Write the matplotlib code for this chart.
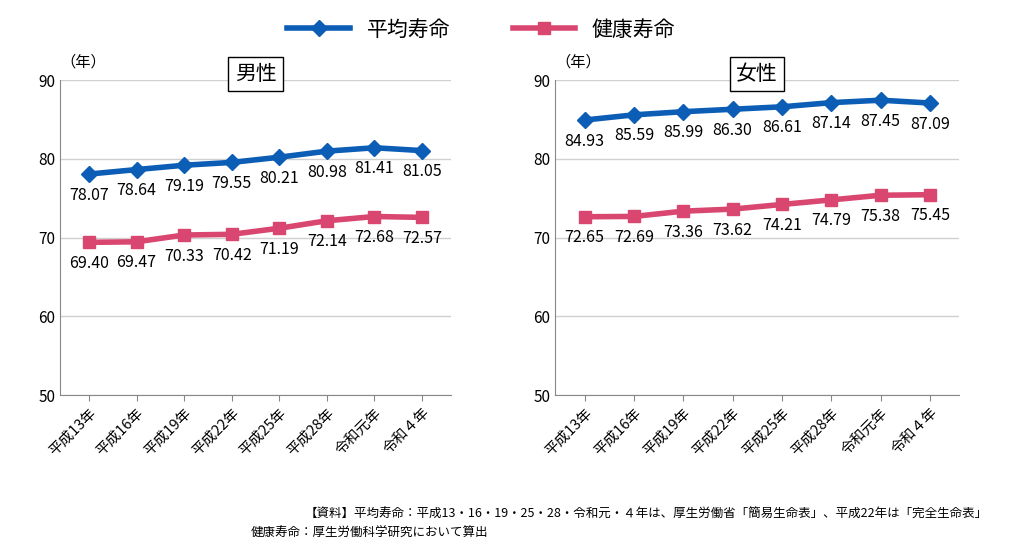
import matplotlib
matplotlib.use('Agg')
import matplotlib.pyplot as plt

plt.rcParams['font.family'] = ['Noto Sans CJK JP', 'DejaVu Sans']

years = ['平成13年', '平成16年', '平成19年', '平成22年', '平成25年', '平成28年', '令和元年', '令和４年']
male_life = [78.07, 78.64, 79.19, 79.55, 80.21, 80.98, 81.41, 81.05]
male_health = [69.40, 69.47, 70.33, 70.42, 71.19, 72.14, 72.68, 72.57]
female_life = [84.93, 85.59, 85.99, 86.30, 86.61, 87.14, 87.45, 87.09]
female_health = [72.65, 72.69, 73.36, 73.62, 74.21, 74.79, 75.38, 75.45]

blue = '#0B5DB5'
pink = '#D9466F'

fig = plt.figure(figsize=(10.24, 5.45), dpi=100)
ax1 = fig.add_axes([0.059, 0.275, 0.381, 0.578])
ax2 = fig.add_axes([0.542, 0.275, 0.395, 0.578])

for ax, life, health, title in [(ax1, male_life, male_health, '男性'),
                                (ax2, female_life, female_health, '女性')]:
    x = range(len(years))
    l1, = ax.plot(x, life, color=blue, lw=4, marker='D', ms=8, label='平均寿命')
    l2, = ax.plot(x, health, color=pink, lw=4, marker='s', ms=9, label='健康寿命')
    for i in x:
        ax.text(i, life[i] - 1.6, f'{life[i]:.2f}', ha='center', va='top', fontsize=11.5)
        ax.text(i, health[i] - 1.6, f'{health[i]:.2f}', ha='center', va='top', fontsize=11.5)
    ax.set_ylim(50, 90)
    ax.set_xlim(-0.6, 7.6)
    ax.set_yticks([50, 60, 70, 80, 90])
    ax.set_xticks(list(x))
    ax.set_xticklabels(years, rotation=45, ha='right', rotation_mode='anchor', fontsize=10.5)
    ax.tick_params(axis='y', labelsize=11, length=0)
    ax.tick_params(axis='x', length=4, color='#888888')
    ax.grid(axis='y', color='#d0d0d0', lw=1)
    ax.set_axisbelow(True)
    for s in ['top', 'right']:
        ax.spines[s].set_visible(False)
    for s in ['left', 'bottom']:
        ax.spines[s].set_color('#888888')
    ax.text(0.0, 1.03, '（年）', transform=ax.transAxes, ha='left', va='bottom', fontsize=11)
    ax.text(0.5, 1.02, title, transform=ax.transAxes, ha='center', va='center', fontsize=15,
            bbox=dict(boxstyle='square,pad=0.3', fc='white', ec='black', lw=1))

fig.legend(handles=[l1, l2], loc='upper center', bbox_to_anchor=(0.47, 1.0), ncol=2,
           frameon=False, fontsize=15, handlelength=3, columnspacing=3)

fig.text(0.965, 0.05, '【資料】平均寿命：平成13・16・19・25・28・令和元・４年は、厚生労働省「簡易生命表」、平成22年は「完全生命表」',
         ha='right', fontsize=9)
fig.text(0.245, 0.015, '健康寿命：厚生労働科学研究において算出', ha='left', fontsize=9)

fig.savefig('out.png', dpi=100)
